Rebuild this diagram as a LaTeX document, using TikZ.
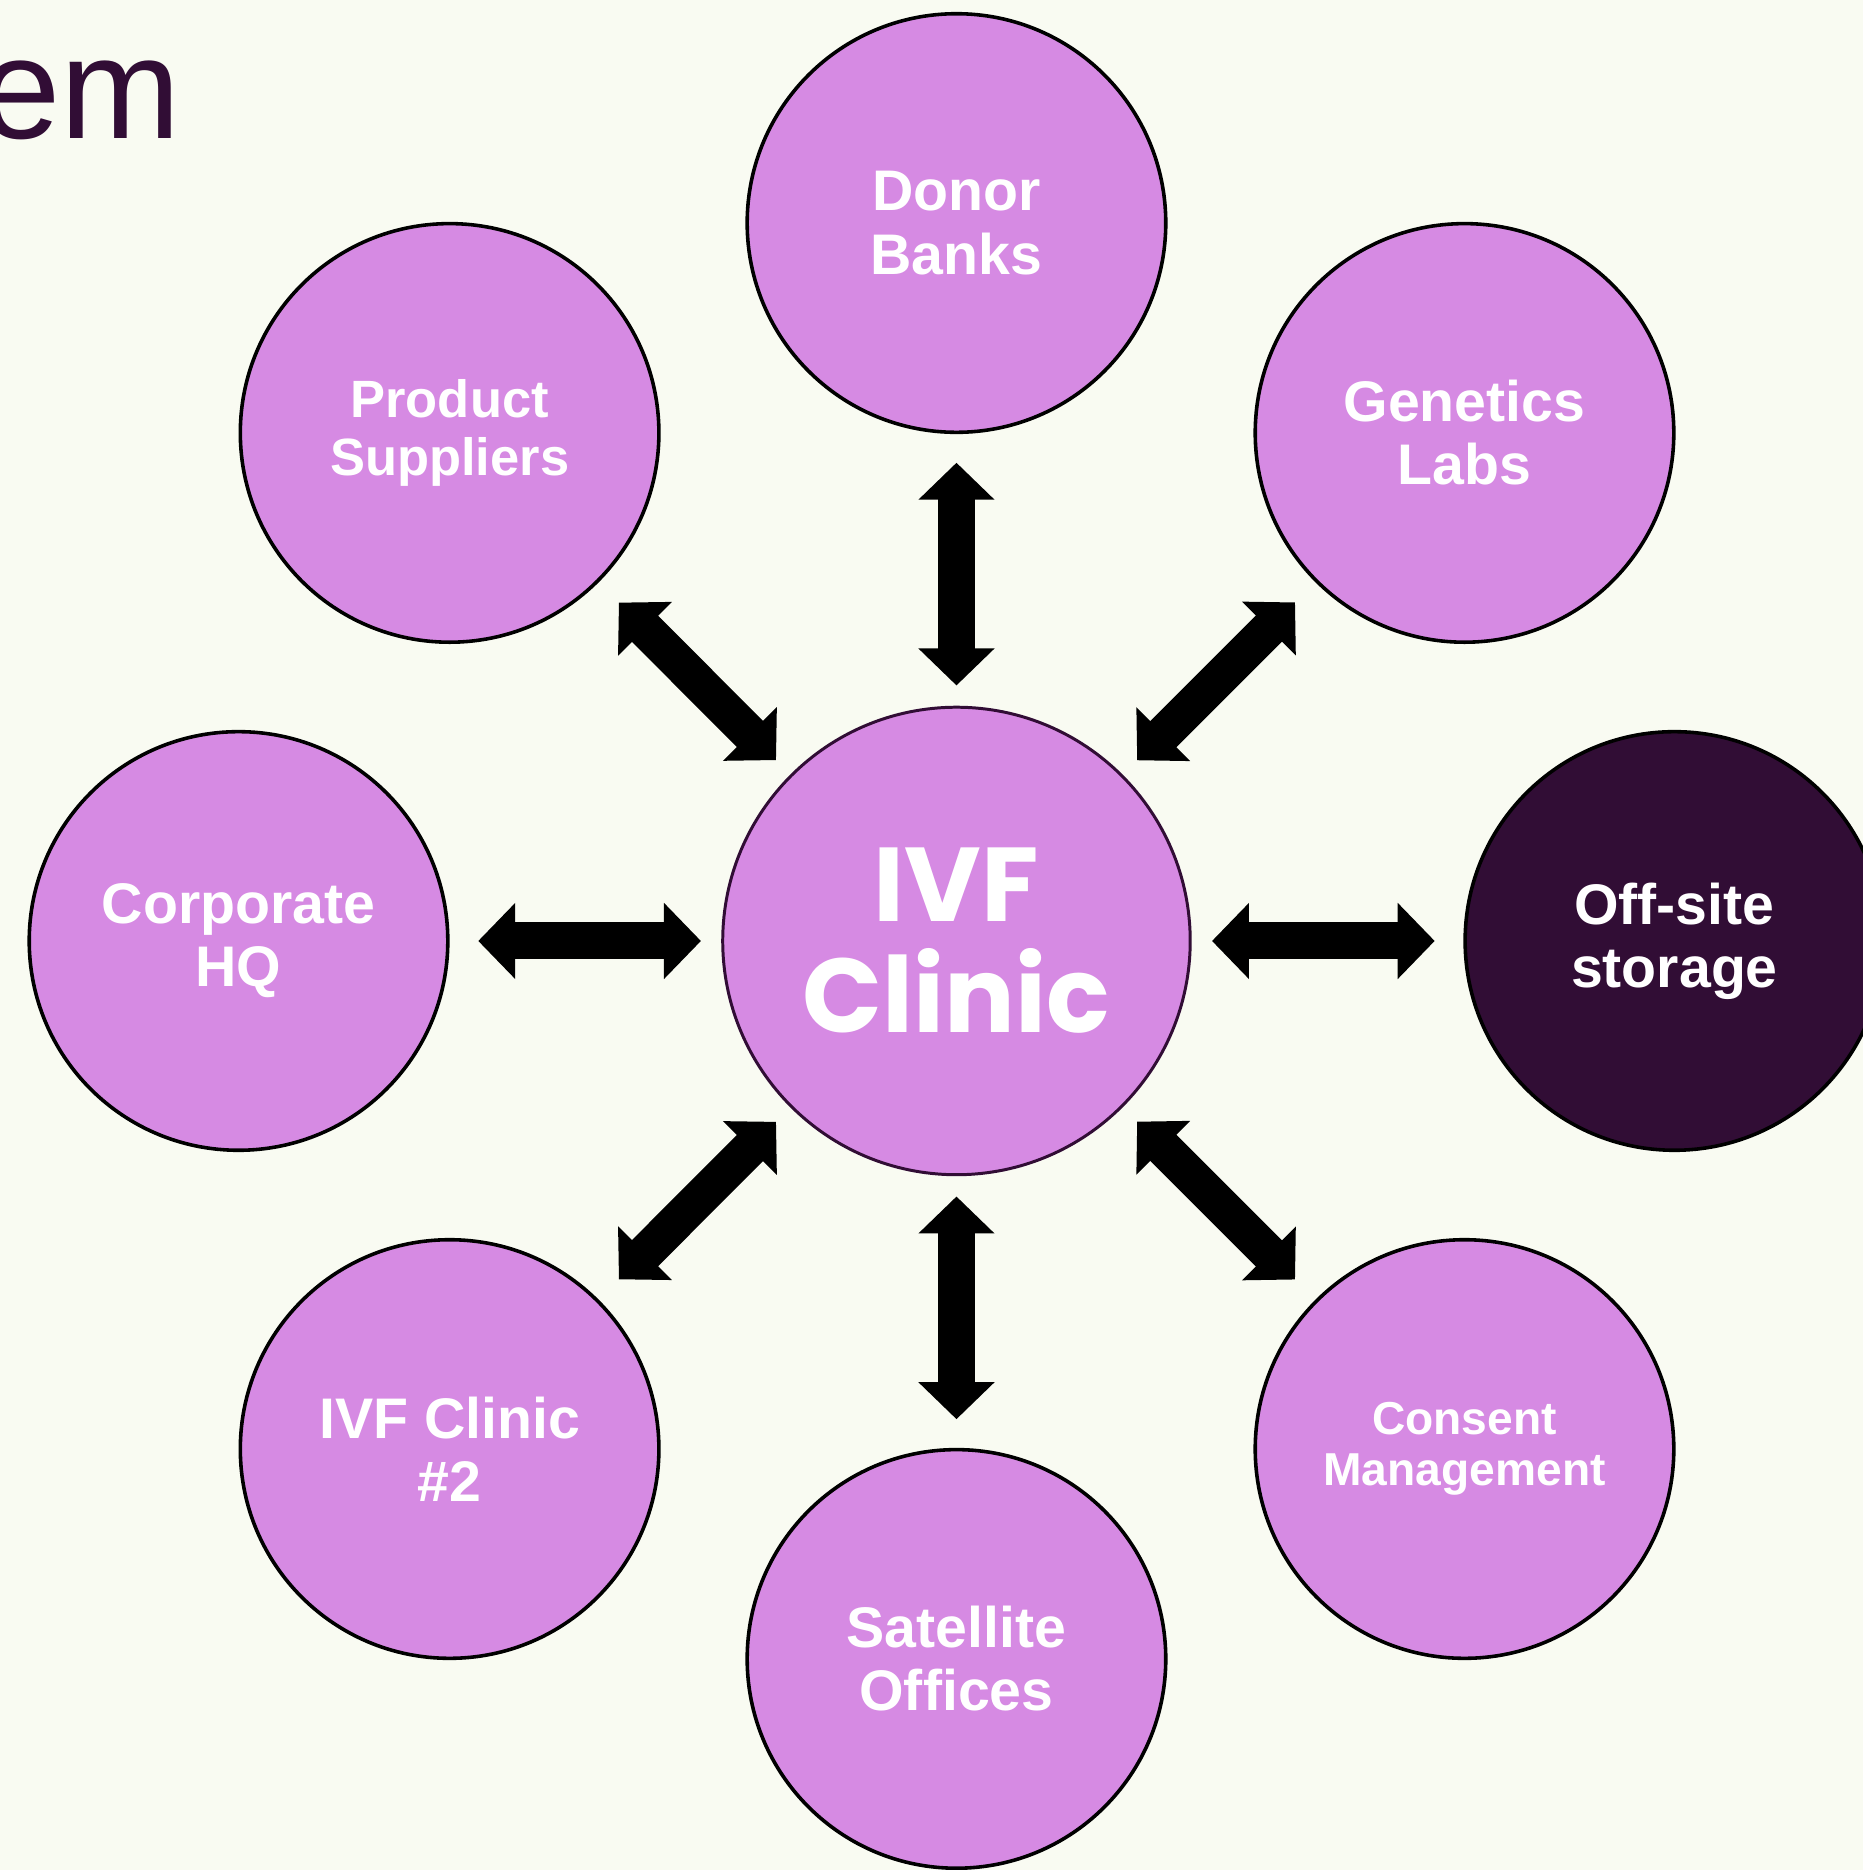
\documentclass[tikz,border=0pt]{standalone}
\usepackage{fontspec}
\setmainfont{Liberation Sans}
\newfontfamily\poppins{Poppins}
\usetikzlibrary{arrows.meta,positioning}

\definecolor{orchid}{HTML}{D68AE3}
\definecolor{plum}{HTML}{310D35}
\definecolor{paper}{HTML}{F9FBF2}

\tikzset{
	partner/.style={circle, draw=black, line width=3pt, fill=orchid, text=white,
		minimum size=351pt, inner sep=0pt, align=center,
		font=\fontsize{48}{53}\selectfont\bfseries},
	hub/.style={partner, draw=plum, line width=2.5pt, minimum size=392pt,
		font=\poppins\bfseries\fontsize{88}{93}\selectfont},
	link/.style={{Triangle[width=62pt,length=31pt]}-{Triangle[width=62pt,length=31pt]},
		line width=31pt, shorten <=17pt, shorten >=24pt}
}

\begin{document}
\begin{tikzpicture}[node distance=602pt, on grid]
			\fill[paper] (0,0) rectangle (1562pt,-1568pt);
			\useasboundingbox (0,0) rectangle (1562pt,-1568pt);

			\node[anchor=base east, inner sep=0pt, text=plum, font=\fontsize{121}{121}\selectfont] (title) at (152pt,-116pt) {em};

			\node[hub] (clinic) at (802pt,-789pt) {IVF\\Clinic};
			\node[partner] (donor) [above=of clinic] {Donor\\Banks};
			\node[partner] (satellite) [below=of clinic] {Satellite\\Offices};
			\node[partner] (corporate) [left=of clinic] {Corporate\\HQ};
			\node[partner, fill=plum] (storage) [right=of clinic] {Off-site\\storage};
			\node[partner, font=\fontsize{44}{48}\selectfont\bfseries] (suppliers) [above left=426pt and 425pt of clinic] {Product\\Suppliers};
			\node[partner] (genetics) [above right=426pt and 426pt of clinic] {Genetics\\Labs};
			\node[partner] (clinictwo) [below left=426pt and 425pt of clinic] {IVF Clinic\\\#2};
			\node[partner, font=\fontsize{38.7}{43}\selectfont\bfseries] (consent) [below right=426pt and 426pt of clinic] {Consent\\Management};

			\draw[link] (clinic) edge (donor)
				(clinic) edge (genetics)
				(clinic) edge (storage)
				(clinic) edge (consent)
				(clinic) edge (satellite)
				(clinic) edge (clinictwo)
				(clinic) edge (corporate)
				(clinic) edge (suppliers);
		\end{tikzpicture}
\end{document}
